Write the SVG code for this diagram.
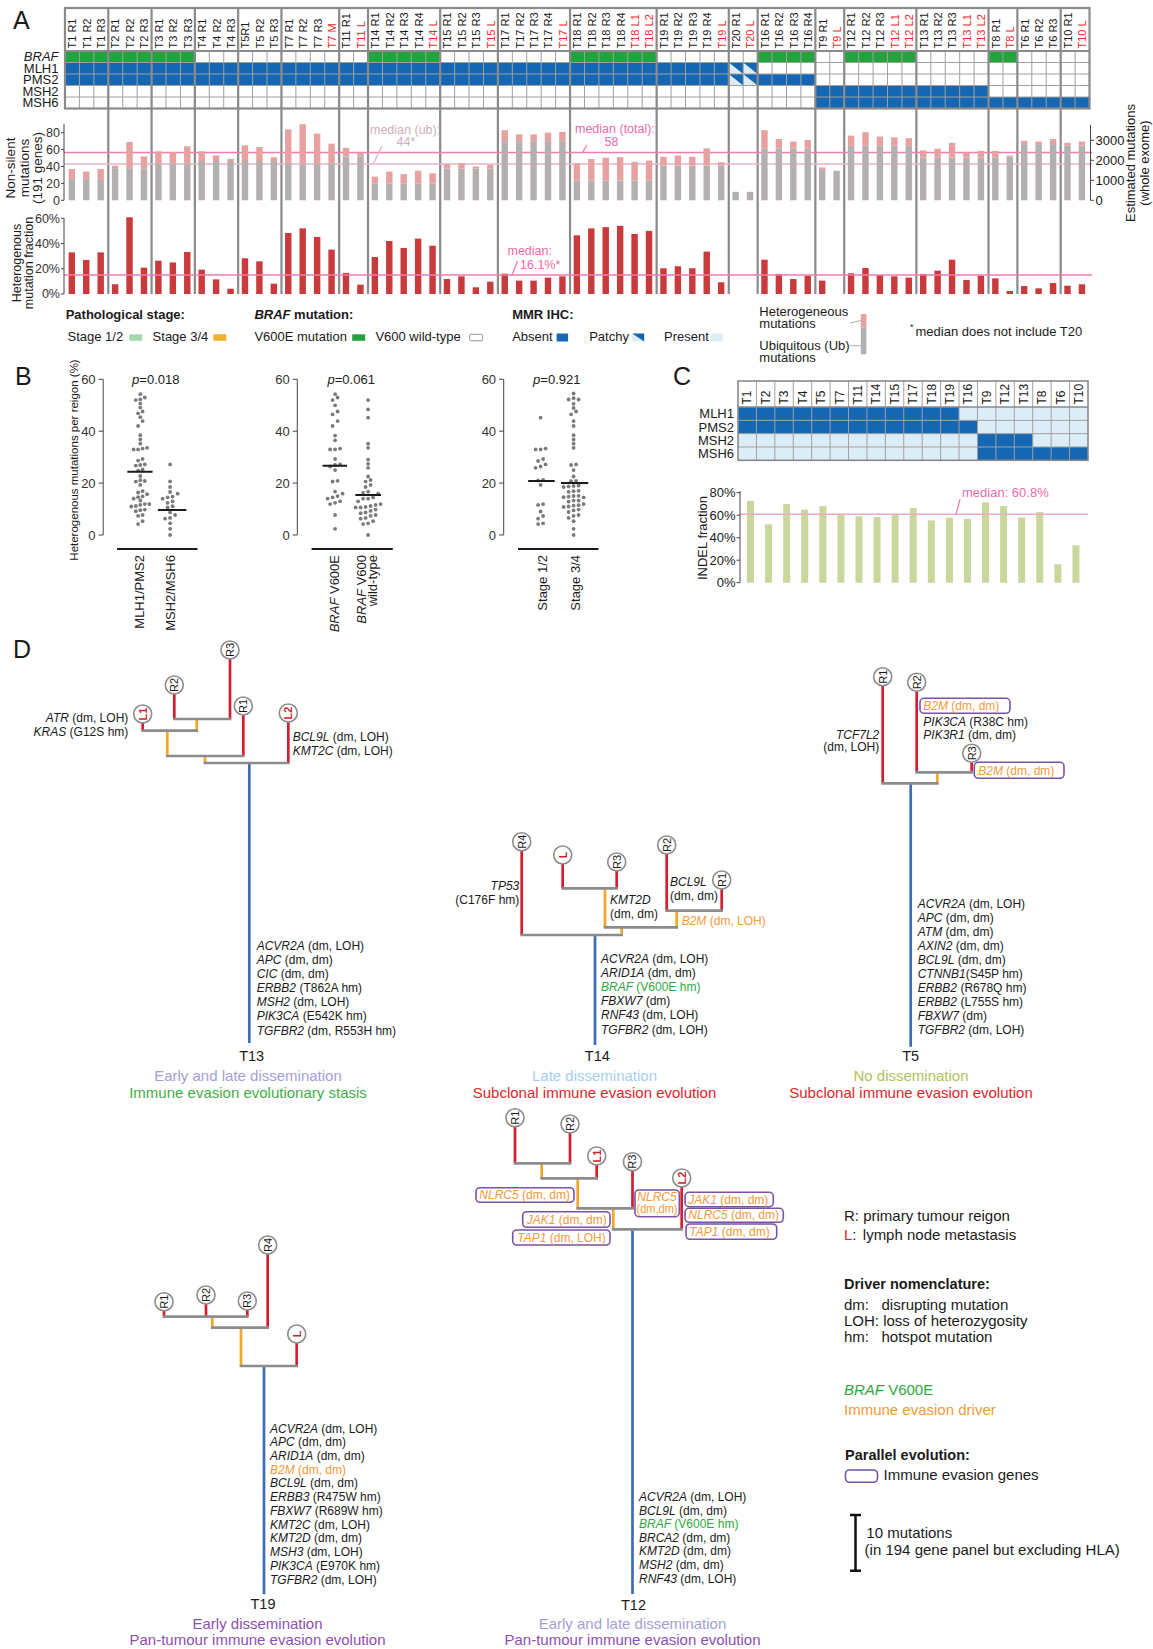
<svg xmlns="http://www.w3.org/2000/svg" width="1153" height="1649" viewBox="0 0 1153 1649">
<style>
text{font-family:"Liberation Sans",Arial,sans-serif;fill:#1a1a1a}
.i{font-style:italic}
.b{font-weight:bold}
.red{fill:#ee2a2a}
.hl{font-size:11px}
.rl{font-size:13px;text-anchor:end}
.ax{stroke:#444;stroke-width:1;fill:none}
.tk{font-size:13px;text-anchor:end;fill:#333}
.tka{font-size:12.5px;text-anchor:end;fill:#333}
.lg{font-size:13px}
.sep{stroke:#8a8a8a;stroke-width:2.2;fill:none}
.ns{vector-effect:non-scaling-stroke}
.ub{fill:#b5b0b0}
.ht{fill:#e7a1a1}
.hf{fill:#c83a3c}
.blue{fill:#1567b3}
.lblue{fill:#dcedf8}
.green{fill:#22a33e}
.pk{stroke:#f27bb0;stroke-width:1.3;fill:none}
.pkt{fill:#f06aa8}
.ubl{stroke:#e7b3cd;stroke-width:1.3;fill:none}
.ubt{fill:#cdb0bd}
.dt{fill:#7a7a7a}
.bl{stroke:#1a1a1a;stroke-width:2;fill:none}
.tg{stroke:#8c8c8c;stroke-width:2.7;fill:none;stroke-linecap:square}
.to{stroke:#f5a629;stroke-width:2.7;fill:none}
.tr{stroke:#d11f2f;stroke-width:2.7;fill:none}
.tb{stroke:#3e6db6;stroke-width:2.7;fill:none}
.nc{fill:#fff;stroke:#8c8c8c;stroke-width:1.6}
.nl{font-size:11px;text-anchor:middle}
.nlr{font-size:11px;text-anchor:middle;fill:#d11f2f;font-weight:bold}
.box{fill:#fff;stroke:#7a52a8;stroke-width:1.6}
.mt{font-size:12px}
.ie{fill:#f39a3d}
.bv{fill:#2ea83f}
.tn{font-size:14.5px;text-anchor:middle}
.st{font-size:15px;text-anchor:middle}
.lr{font-size:15px}
.ind{fill:#c8d79b}
</style>
<rect width="1153" height="1649" fill="#fff"/>

<!-- ================= PANEL A ================= -->
<g id="panelA">
<text x="13" y="28.5" font-size="25">A</text>
<rect x="65" y="8" width="1024.53" height="100.5" fill="#fff"/>
<g id="A-grid" transform="translate(65,51) scale(14.43,11.5)">
 <g class="green">
  <rect x="0" y="0" width="9" height="1"/><rect x="21" y="0" width="5" height="1"/><rect x="35" y="0" width="6" height="1"/><rect x="48" y="0" width="4" height="1"/><rect x="54" y="0" width="5" height="1"/><rect x="64" y="0" width="2" height="1"/>
 </g>
 <g class="blue">
  <rect x="0" y="1" width="46" height="1"/><rect x="0" y="2" width="46" height="1"/><rect x="48" y="2" width="4" height="1"/>
  <rect x="52" y="3" width="12" height="1"/><rect x="52" y="4" width="19" height="1"/>
 </g>
 <rect class="lblue" x="46" y="1" width="2" height="2"/>
 <path class="blue" d="M46 1H47V2Z M47 1H48V2Z M46 2H47V3Z M47 2H48V3Z"/>
 <path class="ns" stroke="#a0a0a0" stroke-width="1" fill="none" d="M0 1H71M0 2H71M0 3H71M0 4H71M1 0V5M2 0V5M3 0V5M4 0V5M5 0V5M6 0V5M7 0V5M8 0V5M9 0V5M10 0V5M11 0V5M12 0V5M13 0V5M14 0V5M15 0V5M16 0V5M17 0V5M18 0V5M19 0V5M20 0V5M21 0V5M22 0V5M23 0V5M24 0V5M25 0V5M26 0V5M27 0V5M28 0V5M29 0V5M30 0V5M31 0V5M32 0V5M33 0V5M34 0V5M35 0V5M36 0V5M37 0V5M38 0V5M39 0V5M40 0V5M41 0V5M42 0V5M43 0V5M44 0V5M45 0V5M46 0V5M47 0V5M48 0V5M49 0V5M50 0V5M51 0V5M52 0V5M53 0V5M54 0V5M55 0V5M56 0V5M57 0V5M58 0V5M59 0V5M60 0V5M61 0V5M62 0V5M63 0V5M64 0V5M65 0V5M66 0V5M67 0V5M68 0V5M69 0V5M70 0V5"/>
</g>
<rect x="65" y="8" width="1024.53" height="100.5" class="sep"/>
<path class="sep" stroke-width="1.5" d="M65 51H1089.53"/>
<path class="sep" d="M108.29 8V294M151.58 8V294M194.87 8V294M238.16 8V294M281.45 8V294M339.17 8V294M368.03 8V294M440.18 8V294M497.9 8V294M570.05 8V294M656.63 8V294M728.78 8V294M757.64 8V294M815.36 8V294M844.22 8V294M916.37 8V294M988.52 8V294M1017.38 8V294M1060.67 8V294"/>

<g id="A-rowlabels">
 <text class="rl i" x="58.5" y="61.3">BRAF</text>
 <text class="rl" x="58.5" y="72.8">MLH1</text>
 <text class="rl" x="58.5" y="84.3">PMS2</text>
 <text class="rl" x="58.5" y="95.8">MSH2</text>
 <text class="rl" x="58.5" y="107.3">MSH6</text>
</g>

<g id="A-samples" class="hl" transform="translate(65,48.5) rotate(-90)">
<text y="11.2">T1 R1</text><text y="25.63">T1 R2</text><text y="40.06">T1 R3</text>
<text y="54.49">T2 R1</text><text y="68.92">T2 R2</text><text y="83.35">T2 R3</text>
<text y="97.78">T3 R1</text><text y="112.21">T3 R2</text><text y="126.64">T3 R3</text>
<text y="141.07">T4 R1</text><text y="155.5">T4 R2</text><text y="169.93">T4 R3</text>
<text y="184.36">T5R1</text><text y="198.79">T5 R2</text><text y="213.22">T5 R3</text>
<text y="227.65">T7 R1</text><text y="242.08">T7 R2</text><text y="256.51">T7 R3</text><text y="270.94" class="red">T7 M</text>
<text y="285.37">T11 R1</text><text y="299.8" class="red">T11 L</text>
<text y="314.23">T14 R1</text><text y="328.66">T14 R2</text><text y="343.09">T14 R3</text><text y="357.52">T14 R4</text><text y="371.95" class="red">T14 L</text>
<text y="386.38">T15 R1</text><text y="400.81">T15 R2</text><text y="415.24">T15 R3</text><text y="429.67" class="red">T15 L</text>
<text y="444.1">T17 R1</text><text y="458.53">T17 R2</text><text y="472.96">T17 R3</text><text y="487.39">T17 R4</text><text y="501.82" class="red">T17 L</text>
<text y="516.25">T18 R1</text><text y="530.68">T18 R2</text><text y="545.11">T18 R3</text><text y="559.54">T18 R4</text><text y="573.97" class="red">T18 L1</text><text y="588.4" class="red">T18 L2</text>
<text y="602.83">T19 R1</text><text y="617.26">T19 R2</text><text y="631.69">T19 R3</text><text y="646.12">T19 R4</text><text y="660.55" class="red">T19 L</text>
<text y="674.98">T20 R1</text><text y="689.41" class="red">T20 L</text>
<text y="703.84">T16 R1</text><text y="718.27">T16 R2</text><text y="732.7">T16 R3</text><text y="747.13">T16 R4</text>
<text y="761.56">T9 R1</text><text y="775.99" class="red">T9 L</text>
<text y="790.42">T12 R1</text><text y="804.85">T12 R2</text><text y="819.28">T12 R3</text><text y="833.71" class="red">T12 L1</text><text y="848.14" class="red">T12 L2</text>
<text y="862.57">T13 R1</text><text y="877">T13 R2</text><text y="891.43">T13 R3</text><text y="905.86" class="red">T13 L1</text><text y="920.29" class="red">T13 L2</text>
<text y="934.72">T8 R1</text><text y="949.15" class="red">T8 L</text>
<text y="963.58">T6 R1</text><text y="978.01">T6 R2</text><text y="992.44">T6 R3</text>
<text y="1006.87">T10 R1</text><text y="1021.3" class="red">T10 L</text>
</g>

<!-- non-silent mutations chart -->
<g id="A-chart1">
<path class="ubl" d="M64 164H1092"/>
<path class="pk" d="M64 152.5H1092"/>
<g transform="translate(65,200.3) scale(14.43,-0.845)">
<g class="ub">
<rect x="0.25" width=".445" height="25"/><rect x="1.25" width=".445" height="25"/><rect x="2.25" width=".445" height="25"/>
<rect x="3.25" width=".445" height="38"/><rect x="4.25" width=".445" height="38"/><rect x="5.25" width=".445" height="38"/>
<rect x="6.25" width=".445" height="43.5"/><rect x="7.25" width=".445" height="43.5"/><rect x="8.25" width=".445" height="43.5"/>
<rect x="9.25" width=".445" height="46.5"/><rect x="10.25" width=".445" height="46.5"/><rect x="11.25" width=".445" height="46.5"/>
<rect x="12.25" width=".445" height="46.5"/><rect x="13.25" width=".445" height="46.5"/><rect x="14.25" width=".445" height="46.5"/>
<rect x="15.25" width=".445" height="43.5"/><rect x="16.25" width=".445" height="43.5"/><rect x="17.25" width=".445" height="43.5"/><rect x="18.25" width=".445" height="43.5"/>
<rect x="19.25" width=".445" height="52"/><rect x="20.25" width=".445" height="52"/>
<rect x="21.25" width=".445" height="20"/><rect x="22.25" width=".445" height="20"/><rect x="23.25" width=".445" height="20"/><rect x="24.25" width=".445" height="20"/><rect x="25.25" width=".445" height="20"/>
<rect x="26.25" width=".445" height="37.5"/><rect x="27.25" width=".445" height="37.5"/><rect x="28.25" width=".445" height="37.5"/><rect x="29.25" width=".445" height="37.5"/>
<rect x="30.25" width=".445" height="70"/><rect x="31.25" width=".445" height="70"/><rect x="32.25" width=".445" height="70"/><rect x="33.25" width=".445" height="70"/><rect x="34.25" width=".445" height="70"/>
<rect x="35.25" width=".445" height="23.5"/><rect x="36.25" width=".445" height="23.5"/><rect x="37.25" width=".445" height="23.5"/><rect x="38.25" width=".445" height="23.5"/><rect x="39.25" width=".445" height="23.5"/><rect x="40.25" width=".445" height="23.5"/>
<rect x="41.25" width=".445" height="41"/><rect x="42.25" width=".445" height="41"/><rect x="43.25" width=".445" height="41"/><rect x="44.25" width=".445" height="41"/><rect x="45.25" width=".445" height="41"/>
<rect x="46.25" width=".445" height="10"/><rect x="47.25" width=".445" height="10"/>
<rect x="48.25" width=".445" height="61"/><rect x="49.25" width=".445" height="61"/><rect x="50.25" width=".445" height="61"/><rect x="51.25" width=".445" height="61"/>
<rect x="52.25" width=".445" height="36"/><rect x="53.25" width=".445" height="35"/>
<rect x="54.25" width=".445" height="64.5"/><rect x="55.25" width=".445" height="64.5"/><rect x="56.25" width=".445" height="64.5"/><rect x="57.25" width=".445" height="64.5"/><rect x="58.25" width=".445" height="64.5"/>
<rect x="59.25" width=".445" height="50.5"/><rect x="60.25" width=".445" height="50.5"/><rect x="61.25" width=".445" height="50.5"/><rect x="62.25" width=".445" height="50.5"/><rect x="63.25" width=".445" height="50.5"/>
<rect x="64.25" width=".445" height="50.5"/><rect x="65.25" width=".445" height="52"/>
<rect x="66.25" width=".445" height="66.5"/><rect x="67.25" width=".445" height="66.5"/><rect x="68.25" width=".445" height="66.5"/>
<rect x="69.25" width=".445" height="65"/><rect x="70.25" width=".445" height="65"/>
</g>
<g class="ht">
<rect x="0.25" y="25" width=".445" height="12"/><rect x="1.25" y="25" width=".445" height="9"/><rect x="2.25" y="25" width=".445" height="12"/>
<rect x="3.25" y="38" width=".445" height="3"/><rect x="4.25" y="38" width=".445" height="31"/><rect x="5.25" y="38" width=".445" height="14"/>
<rect x="6.25" y="43.5" width=".445" height="14.5"/><rect x="7.25" y="43.5" width=".445" height="13.5"/><rect x="8.25" y="43.5" width=".445" height="20.5"/>
<rect x="9.25" y="46.5" width=".445" height="11.5"/><rect x="10.25" y="46.5" width=".445" height="6.5"/><rect x="11.25" y="46.5" width=".445" height="2.5"/>
<rect x="12.25" y="46.5" width=".445" height="18.5"/><rect x="13.25" y="46.5" width=".445" height="16.5"/><rect x="14.25" y="46.5" width=".445" height="4.5"/>
<rect x="15.25" y="43.5" width=".445" height="40.5"/><rect x="16.25" y="43.5" width=".445" height="46.5"/><rect x="17.25" y="43.5" width=".445" height="35.5"/><rect x="18.25" y="43.5" width=".445" height="23.5"/>
<rect x="19.25" y="52" width=".445" height="10"/><rect x="20.25" y="52" width=".445" height="4.5"/>
<rect x="21.25" y="20" width=".445" height="8"/><rect x="22.25" y="20" width=".445" height="14"/><rect x="23.25" y="20" width=".445" height="11"/><rect x="24.25" y="20" width=".445" height="15"/><rect x="25.25" y="20" width=".445" height="12"/>
<rect x="26.25" y="37.5" width=".445" height="5.5"/><rect x="27.25" y="37.5" width=".445" height="6.5"/><rect x="28.25" y="37.5" width=".445" height="2.5"/><rect x="29.25" y="37.5" width=".445" height="4.5"/>
<rect x="30.25" y="70" width=".445" height="13"/><rect x="31.25" y="70" width=".445" height="8"/><rect x="32.25" y="70" width=".445" height="8"/><rect x="33.25" y="70" width=".445" height="10"/><rect x="34.25" y="70" width=".445" height="11"/>
<rect x="35.25" y="23.5" width=".445" height="20.5"/><rect x="36.25" y="23.5" width=".445" height="25.5"/><rect x="37.25" y="23.5" width=".445" height="27"/><rect x="38.25" y="23.5" width=".445" height="27.5"/><rect x="39.25" y="23.5" width=".445" height="22"/><rect x="40.25" y="23.5" width=".445" height="23.5"/>
<rect x="41.25" y="41" width=".445" height="10.5"/><rect x="42.25" y="41" width=".445" height="12"/><rect x="43.25" y="41" width=".445" height="10.5"/><rect x="44.25" y="41" width=".445" height="20.5"/><rect x="45.25" y="41" width=".445" height="4"/>
<rect x="48.25" y="61" width=".445" height="22"/><rect x="49.25" y="61" width=".445" height="11.5"/><rect x="50.25" y="61" width=".445" height="8.5"/><rect x="51.25" y="61" width=".445" height="10.5"/>
<rect x="52.25" y="36" width=".445" height="3"/>
<rect x="54.25" y="64.5" width=".445" height="12"/><rect x="55.25" y="64.5" width=".445" height="16"/><rect x="56.25" y="64.5" width=".445" height="11"/><rect x="57.25" y="64.5" width=".445" height="10"/><rect x="58.25" y="64.5" width=".445" height="9"/>
<rect x="59.25" y="50.5" width=".445" height="8.5"/><rect x="60.25" y="50.5" width=".445" height="10.5"/><rect x="61.25" y="50.5" width=".445" height="17.5"/><rect x="62.25" y="50.5" width=".445" height="6"/><rect x="63.25" y="50.5" width=".445" height="8"/>
<rect x="64.25" y="50.5" width=".445" height="8"/><rect x="65.25" y="52" width=".445" height="1"/>
<rect x="66.25" y="66.5" width=".445" height="4"/><rect x="67.25" y="66.5" width=".445" height="3"/><rect x="68.25" y="66.5" width=".445" height="6"/>
<rect x="69.25" y="65" width=".445" height="3"/><rect x="70.25" y="65" width=".445" height="4.5"/>
</g>
</g>
<path class="ax" d="M64 124V200.3M61 200.3H64M61 183.4H64M61 166.5H64M61 149.6H64M61 132.7H64"/>
<text class="tka" x="60" y="204.6">0</text><text class="tka" x="60" y="187.7">20</text><text class="tka" x="60" y="170.8">40</text><text class="tka" x="60" y="153.9">60</text><text class="tka" x="60" y="137">80</text>
<path class="ax" d="M1090.5 125V200.3M1090.5 200.3H1094M1090.5 180.3H1094M1090.5 160.3H1094M1090.5 140.3H1094"/>
<g font-size="13"><text x="1095.5" y="205">0</text><text x="1095.5" y="185">1000</text><text x="1095.5" y="165">2000</text><text x="1095.5" y="145">3000</text></g>
<g font-size="13" text-anchor="middle" transform="translate(0,163) rotate(-90)"><text x="0" y="1135">Estimated mutations</text><text x="0" y="1149">(whole exome)</text></g>
<g font-size="13.5" text-anchor="middle" transform="translate(0,168) rotate(-90)"><text x="0" y="15">Non-silent</text><text x="0" y="28.5">mutations</text><text x="0" y="42">(191 genes)</text></g>
<text class="ubt" font-size="12.5" x="370" y="133.5">median (ub):</text>
<text class="ubt" font-size="12.5" x="406" y="145.5" text-anchor="middle">44*</text>
<path class="ubl" d="M382 146L373.5 163.3"/>
<text class="pkt" font-size="12.5" x="575" y="132.5">median (total):</text>
<text class="pkt" font-size="12.5" x="611.5" y="145.5" text-anchor="middle">58</text>
<path class="pk" d="M586.8 145L582.4 152.7"/>
</g>

<!-- heterogeneous fraction chart -->
<g id="A-chart2">
<g class="hf" transform="translate(65,294) scale(14.43,-1.2617)">
<rect x="0.25" width=".445" height="33"/><rect x="1.25" width=".445" height="27"/><rect x="2.25" width=".445" height="33"/>
<rect x="3.25" width=".445" height="7.7"/><rect x="4.25" width=".445" height="60.8"/><rect x="5.25" width=".445" height="20.9"/>
<rect x="6.25" width=".445" height="26.4"/><rect x="7.25" width=".445" height="25"/><rect x="8.25" width=".445" height="33.3"/>
<rect x="9.25" width=".445" height="19.3"/><rect x="10.25" width=".445" height="11.6"/><rect x="11.25" width=".445" height="4.2"/>
<rect x="12.25" width=".445" height="28.3"/><rect x="13.25" width=".445" height="25.9"/><rect x="14.25" width=".445" height="8.2"/>
<rect x="15.25" width=".445" height="48.4"/><rect x="16.25" width=".445" height="52"/><rect x="17.25" width=".445" height="45.2"/><rect x="18.25" width=".445" height="35.2"/>
<rect x="19.25" width=".445" height="16.7"/><rect x="20.25" width=".445" height="7.4"/>
<rect x="21.25" width=".445" height="29.3"/><rect x="22.25" width=".445" height="42"/><rect x="23.25" width=".445" height="36.5"/><rect x="24.25" width=".445" height="43.9"/><rect x="25.25" width=".445" height="38.3"/>
<rect x="26.25" width=".445" height="11.9"/><rect x="27.25" width=".445" height="14"/><rect x="28.25" width=".445" height="5.3"/><rect x="29.25" width=".445" height="9.8"/>
<rect x="30.25" width=".445" height="16.1"/><rect x="31.25" width=".445" height="10.6"/><rect x="32.25" width=".445" height="10.6"/><rect x="33.25" width=".445" height="13"/><rect x="34.25" width=".445" height="14"/>
<rect x="35.25" width=".445" height="46.5"/><rect x="36.25" width=".445" height="52"/><rect x="37.25" width=".445" height="53"/><rect x="38.25" width=".445" height="54"/><rect x="39.25" width=".445" height="47.6"/><rect x="40.25" width=".445" height="50"/>
<rect x="41.25" width=".445" height="20.4"/><rect x="42.25" width=".445" height="22"/><rect x="43.25" width=".445" height="20.4"/><rect x="44.25" width=".445" height="33.6"/><rect x="45.25" width=".445" height="9.3"/>
<rect x="48.25" width=".445" height="27.2"/><rect x="49.25" width=".445" height="15.9"/><rect x="50.25" width=".445" height="11.9"/><rect x="51.25" width=".445" height="14.5"/>
<rect x="52.25" width=".445" height="10.6"/>
<rect x="54.25" width=".445" height="16.4"/><rect x="55.25" width=".445" height="20.6"/><rect x="56.25" width=".445" height="15"/><rect x="57.25" width=".445" height="14"/><rect x="58.25" width=".445" height="13"/>
<rect x="59.25" width=".445" height="15.9"/><rect x="60.25" width=".445" height="18.5"/><rect x="61.25" width=".445" height="27.2"/><rect x="62.25" width=".445" height="11.1"/><rect x="63.25" width=".445" height="14.5"/>
<rect x="64.25" width=".445" height="12.4"/><rect x="65.25" width=".445" height="2.4"/>
<rect x="66.25" width=".445" height="6.3"/><rect x="67.25" width=".445" height="4.5"/><rect x="68.25" width=".445" height="8.7"/>
<rect x="69.25" width=".445" height="6.6"/><rect x="70.25" width=".445" height="7.7"/>
</g>
<path class="pk" d="M64 275H1092"/>
<path class="ax" d="M64 218V294M61 294H64M61 268.8H64M61 243.5H64M61 218.3H64"/>
<text class="tka" x="60" y="298.4">0%</text><text class="tka" x="60" y="273.2">20%</text><text class="tka" x="60" y="247.9">40%</text><text class="tka" x="60" y="222.7">60%</text>
<g font-size="12.5" text-anchor="middle" transform="translate(0,263) rotate(-90)"><text x="0" y="20.5">Heterogenous</text><text x="0" y="33">mutation fraction</text></g>
<text class="pkt" font-size="12.5" x="507.5" y="254.5">median:</text>
<text class="pkt" font-size="12.5" x="520" y="268.5">16.1%*</text>
<path class="pk" d="M517.5 261L512 275"/>
</g>

<!-- legend A -->
<g id="A-legend">
<text class="lg b" x="65.7" y="318.5">Pathological stage:</text>
<text class="lg" x="67.5" y="341">Stage 1/2</text><rect x="129.3" y="334.3" width="13" height="6.5" fill="#a5d8b0"/>
<text class="lg" x="152.6" y="341">Stage 3/4</text><rect x="213.3" y="334.3" width="13" height="6.5" fill="#f6ae2d"/>
<text class="lg b" x="254.4" y="318.5"><tspan class="i">BRAF</tspan> mutation:</text>
<text class="lg" x="254.4" y="341">V600E mutation</text><rect x="352.2" y="334.3" width="13" height="6.5" class="green"/>
<text class="lg" x="375.4" y="341">V600 wild-type</text><rect x="469.7" y="334.3" width="13" height="6.5" fill="#fff" stroke="#777" stroke-width="0.8" rx="1.5"/>
<text class="lg b" x="512.2" y="318.5">MMR IHC:</text>
<text class="lg" x="512.2" y="341">Absent</text><rect x="556.6" y="333.5" width="11.5" height="8" class="blue"/>
<text class="lg" x="589.2" y="341">Patchy</text><rect x="632.2" y="333.5" width="12" height="8" class="lblue"/><path d="M632.2 333.5H644.2V341.5Z" class="blue"/>
<text class="lg" x="664" y="341">Present</text><rect x="710.4" y="333.5" width="12" height="8" class="lblue"/>
<text class="lg" x="759.3" y="315.7">Heterogeneous</text>
<text class="lg" x="759.3" y="327.5">mutations</text>
<text class="lg" x="759.3" y="349.5">Ubiquitous (Ub)</text>
<text class="lg" x="759.3" y="361.5">mutations</text>
<rect x="860.8" y="314" width="5.6" height="13.3" class="ht"/>
<rect x="860.8" y="327.3" width="5.6" height="27" class="ub"/>
<path d="M850 323L860.8 320.5M849.7 345.7H860.8" stroke="#999" stroke-width="0.8" fill="none"/>
<text font-size="9" x="910" y="330">*</text>
<text class="lg" x="915.5" y="335.7">median does not include T20</text>
</g>
</g>

<!-- ================= PANEL B ================= -->
<g id="panelB">
<text x="15" y="385" font-size="25">B</text>
<g font-size="11.5" text-anchor="middle" transform="translate(0,460) rotate(-90)"><text x="0" y="77.5">Heterogenous mutations per reigon (%)</text></g>
<g id="B-plot1" transform="translate(-5.4,0)">
<path class="ax" stroke="#222" stroke-width="1.3" d="M108.6 379.3V535M104 379.3H108.6M104 431.2H108.6M104 483.1H108.6M104 535H108.6"/>
<text class="tk" x="101" y="384">60</text><text class="tk" x="101" y="436">40</text><text class="tk" x="101" y="488">20</text><text class="tk" x="101" y="539.8">0</text>
<text font-size="13" x="161.2" y="383.5" text-anchor="middle"><tspan class="i">p</tspan>=0.018</text>
<g class="dt">
<circle cx="143.5" cy="524.1" r="1.9"/><circle cx="148" cy="521.2" r="1.9"/><circle cx="143.5" cy="515.8" r="1.9"/><circle cx="148" cy="515" r="1.9"/><circle cx="141.2" cy="511.2" r="1.9"/><circle cx="145.7" cy="510.2" r="1.9"/><circle cx="150.2" cy="509.6" r="1.9"/><circle cx="136.7" cy="506.5" r="1.9"/><circle cx="141.2" cy="506" r="1.9"/><circle cx="145.7" cy="504.9" r="1.9"/><circle cx="150.2" cy="504.1" r="1.9"/><circle cx="154.7" cy="504.1" r="1.9"/><circle cx="145.7" cy="500.5" r="1.9"/><circle cx="139" cy="498.7" r="1.9"/><circle cx="143.5" cy="497.2" r="1.9"/><circle cx="148" cy="496.4" r="1.9"/><circle cx="152.5" cy="494.2" r="1.9"/><circle cx="143.5" cy="492.5" r="1.9"/><circle cx="148" cy="491.2" r="1.9"/><circle cx="145.7" cy="484.9" r="1.9"/><circle cx="141.2" cy="481.6" r="1.9"/><circle cx="145.7" cy="480.2" r="1.9"/><circle cx="150.2" cy="481" r="1.9"/><circle cx="145.7" cy="476" r="1.9"/><circle cx="143.5" cy="470.6" r="1.9"/><circle cx="148" cy="469.4" r="1.9"/><circle cx="141.2" cy="465.6" r="1.9"/><circle cx="145.7" cy="465" r="1.9"/><circle cx="150.2" cy="464.4" r="1.9"/><circle cx="143.5" cy="460.6" r="1.9"/><circle cx="148" cy="459" r="1.9"/><circle cx="139" cy="449.4" r="1.9"/><circle cx="143.5" cy="449.4" r="1.9"/><circle cx="148" cy="448.6" r="1.9"/><circle cx="152.5" cy="447.8" r="1.9"/><circle cx="145.7" cy="443.7" r="1.9"/><circle cx="145.7" cy="439.5" r="1.9"/><circle cx="145.7" cy="435.2" r="1.9"/><circle cx="143.5" cy="426" r="1.9"/><circle cx="148" cy="421.1" r="1.9"/><circle cx="145.7" cy="417.2" r="1.9"/><circle cx="143.5" cy="413.3" r="1.9"/><circle cx="148" cy="411.5" r="1.9"/><circle cx="145.7" cy="407.6" r="1.9"/><circle cx="145.7" cy="403.6" r="1.9"/><circle cx="141.2" cy="400.1" r="1.9"/><circle cx="145.7" cy="399.4" r="1.9"/><circle cx="150.2" cy="397.5" r="1.9"/><circle cx="145.7" cy="394.2" r="1.9"/>
<circle cx="175.5" cy="535" r="1.9"/><circle cx="175.5" cy="528.8" r="1.9"/><circle cx="175.5" cy="523.3" r="1.9"/><circle cx="170.5" cy="518.7" r="1.9"/><circle cx="175.5" cy="517.9" r="1.9"/><circle cx="180.5" cy="515" r="1.9"/><circle cx="175.5" cy="512.4" r="1.9"/><circle cx="173" cy="507.5" r="1.9"/><circle cx="178" cy="506.2" r="1.9"/><circle cx="173" cy="502.8" r="1.9"/><circle cx="178" cy="501.3" r="1.9"/><circle cx="168" cy="498.7" r="1.9"/><circle cx="173" cy="497.4" r="1.9"/><circle cx="178" cy="496.6" r="1.9"/><circle cx="183" cy="493.7" r="1.9"/><circle cx="175.5" cy="492" r="1.9"/><circle cx="175.5" cy="487" r="1.9"/><circle cx="175.5" cy="481.5" r="1.9"/><circle cx="175.5" cy="464.4" r="1.9"/>
</g>
<path class="bl" d="M132.7 471.7H158M163.3 510H191.8M122.4 549H202.9"/>
<g font-size="13" text-anchor="end">
<text transform="translate(149.5,555) rotate(-90)">MLH1/PMS2</text>
<text transform="translate(180,555) rotate(-90)">MSH2/MSH6</text>
</g>
</g>
<g id="B-plot2" transform="translate(-3.9,0)">
<path class="ax" stroke="#222" stroke-width="1.3" d="M301.2 379.3V535M296.6 379.3H301.2M296.6 431.2H301.2M296.6 483.1H301.2M296.6 535H301.2"/>
<text class="tk" x="293.6" y="384">60</text><text class="tk" x="293.6" y="436">40</text><text class="tk" x="293.6" y="488">20</text><text class="tk" x="293.6" y="539.8">0</text>
<text font-size="13" x="355.1" y="383.5" text-anchor="middle"><tspan class="i">p</tspan>=0.061</text>
<g class="dt">
<circle cx="339" cy="528.8" r="1.9"/><circle cx="339" cy="515" r="1.9"/><circle cx="334" cy="504.1" r="1.9"/><circle cx="339" cy="502.8" r="1.9"/><circle cx="344" cy="501.3" r="1.9"/><circle cx="331.5" cy="498.7" r="1.9"/><circle cx="336.5" cy="497.4" r="1.9"/><circle cx="341.5" cy="496.1" r="1.9"/><circle cx="346.5" cy="493.7" r="1.9"/><circle cx="339" cy="491.6" r="1.9"/><circle cx="336.5" cy="481.5" r="1.9"/><circle cx="341.5" cy="480.8" r="1.9"/><circle cx="339" cy="470.1" r="1.9"/><circle cx="334" cy="466.5" r="1.9"/><circle cx="339" cy="465" r="1.9"/><circle cx="344" cy="464.4" r="1.9"/><circle cx="339" cy="459" r="1.9"/><circle cx="334" cy="449.4" r="1.9"/><circle cx="339" cy="449.4" r="1.9"/><circle cx="344" cy="448.6" r="1.9"/><circle cx="339" cy="440.3" r="1.9"/><circle cx="339" cy="435.6" r="1.9"/><circle cx="336.5" cy="426" r="1.9"/><circle cx="341.5" cy="421.1" r="1.9"/><circle cx="336.5" cy="414.3" r="1.9"/><circle cx="341.5" cy="411.5" r="1.9"/><circle cx="339" cy="405.3" r="1.9"/><circle cx="336.5" cy="400.1" r="1.9"/><circle cx="341.5" cy="397.5" r="1.9"/><circle cx="339" cy="394.2" r="1.9"/>
<circle cx="372" cy="535" r="1.9"/><circle cx="367" cy="524.1" r="1.9"/><circle cx="372" cy="523.3" r="1.9"/><circle cx="377" cy="521.2" r="1.9"/><circle cx="364.5" cy="518.7" r="1.9"/><circle cx="369.5" cy="517.9" r="1.9"/><circle cx="374.5" cy="515.8" r="1.9"/><circle cx="379.5" cy="515" r="1.9"/><circle cx="364.5" cy="513.2" r="1.9"/><circle cx="369.5" cy="512.4" r="1.9"/><circle cx="374.5" cy="510.9" r="1.9"/><circle cx="379.5" cy="509.6" r="1.9"/><circle cx="359.5" cy="507.5" r="1.9"/><circle cx="364.5" cy="507.5" r="1.9"/><circle cx="369.5" cy="507" r="1.9"/><circle cx="374.5" cy="506" r="1.9"/><circle cx="379.5" cy="504.9" r="1.9"/><circle cx="384.5" cy="504.1" r="1.9"/><circle cx="362" cy="501.3" r="1.9"/><circle cx="367" cy="498.7" r="1.9"/><circle cx="372" cy="498.7" r="1.9"/><circle cx="377" cy="497.4" r="1.9"/><circle cx="382" cy="493.7" r="1.9"/><circle cx="367" cy="492.8" r="1.9"/><circle cx="372" cy="491.7" r="1.9"/><circle cx="369.5" cy="487" r="1.9"/><circle cx="374.5" cy="484.9" r="1.9"/><circle cx="369.5" cy="481.6" r="1.9"/><circle cx="374.5" cy="480" r="1.9"/><circle cx="372" cy="476.5" r="1.9"/><circle cx="372" cy="467.8" r="1.9"/><circle cx="372" cy="463.8" r="1.9"/><circle cx="372" cy="459.6" r="1.9"/><circle cx="372" cy="447.8" r="1.9"/><circle cx="372" cy="443.7" r="1.9"/><circle cx="372" cy="417.7" r="1.9"/><circle cx="372" cy="409.4" r="1.9"/><circle cx="372" cy="400.1" r="1.9"/>
</g>
<path class="bl" d="M326.5 465.7H351M359.2 495H384.9M315.5 549H396.7"/>
<g font-size="13" text-anchor="end">
<text transform="translate(343.3,555) rotate(-90)"><tspan class="i">BRAF</tspan> V600E</text>
<text transform="translate(369.5,555) rotate(-90)"><tspan class="i">BRAF</tspan> V600</text>
<text transform="translate(381,555) rotate(-90)">wild-type</text>
</g>
</g>
<g id="B-plot3" transform="translate(-2.4,0)">
<path class="ax" stroke="#222" stroke-width="1.3" d="M506.1 379.3V535M501.5 379.3H506.1M501.5 431.2H506.1M501.5 483.1H506.1M501.5 535H506.1"/>
<text class="tk" x="498.5" y="384">60</text><text class="tk" x="498.5" y="436">40</text><text class="tk" x="498.5" y="488">20</text><text class="tk" x="498.5" y="539.8">0</text>
<text font-size="13" x="559.2" y="383.5" text-anchor="middle"><tspan class="i">p</tspan>=0.921</text>
<g class="dt">
<circle cx="540.5" cy="524.1" r="1.9"/><circle cx="545.5" cy="523.3" r="1.9"/><circle cx="540.5" cy="518.7" r="1.9"/><circle cx="545.5" cy="516" r="1.9"/><circle cx="543" cy="511.5" r="1.9"/><circle cx="540.5" cy="504.9" r="1.9"/><circle cx="545.5" cy="504.1" r="1.9"/><circle cx="543" cy="484.9" r="1.9"/><circle cx="540.5" cy="480.5" r="1.9"/><circle cx="545.5" cy="480" r="1.9"/><circle cx="538" cy="467.8" r="1.9"/><circle cx="543" cy="466.5" r="1.9"/><circle cx="548" cy="464.4" r="1.9"/><circle cx="540.5" cy="461" r="1.9"/><circle cx="545.5" cy="459" r="1.9"/><circle cx="538" cy="449.4" r="1.9"/><circle cx="543" cy="449.4" r="1.9"/><circle cx="548" cy="448.6" r="1.9"/><circle cx="543" cy="417.7" r="1.9"/>
<circle cx="576" cy="535" r="1.9"/><circle cx="576" cy="528.8" r="1.9"/><circle cx="576" cy="521.2" r="1.9"/><circle cx="571" cy="517.9" r="1.9"/><circle cx="576" cy="515.8" r="1.9"/><circle cx="581" cy="515" r="1.9"/><circle cx="571" cy="512" r="1.9"/><circle cx="576" cy="510.4" r="1.9"/><circle cx="581" cy="509.6" r="1.9"/><circle cx="566" cy="507" r="1.9"/><circle cx="571" cy="506.5" r="1.9"/><circle cx="576" cy="505.7" r="1.9"/><circle cx="581" cy="505.2" r="1.9"/><circle cx="586" cy="504.1" r="1.9"/><circle cx="571" cy="501.6" r="1.9"/><circle cx="576" cy="500.6" r="1.9"/><circle cx="581" cy="500.6" r="1.9"/><circle cx="566" cy="497.2" r="1.9"/><circle cx="571" cy="496.7" r="1.9"/><circle cx="576" cy="496" r="1.9"/><circle cx="581" cy="495.8" r="1.9"/><circle cx="586" cy="497.4" r="1.9"/><circle cx="571" cy="491.8" r="1.9"/><circle cx="576" cy="491.2" r="1.9"/><circle cx="581" cy="490.8" r="1.9"/><circle cx="566" cy="487" r="1.9"/><circle cx="571" cy="486.5" r="1.9"/><circle cx="576" cy="486" r="1.9"/><circle cx="581" cy="485.5" r="1.9"/><circle cx="573.5" cy="481.2" r="1.9"/><circle cx="578.5" cy="480.8" r="1.9"/><circle cx="576" cy="476.5" r="1.9"/><circle cx="576" cy="470.1" r="1.9"/><circle cx="573.5" cy="465" r="1.9"/><circle cx="578.5" cy="464.4" r="1.9"/><circle cx="576" cy="447.8" r="1.9"/><circle cx="576" cy="443.7" r="1.9"/><circle cx="576" cy="439.5" r="1.9"/><circle cx="576" cy="435.2" r="1.9"/><circle cx="576" cy="426" r="1.9"/><circle cx="576" cy="421.1" r="1.9"/><circle cx="573.5" cy="414.3" r="1.9"/><circle cx="578.5" cy="411.5" r="1.9"/><circle cx="576" cy="408" r="1.9"/><circle cx="576" cy="403.8" r="1.9"/><circle cx="571" cy="399.5" r="1.9"/><circle cx="581" cy="399.5" r="1.9"/><circle cx="576" cy="398.2" r="1.9"/><circle cx="576" cy="393.5" r="1.9"/>
</g>
<path class="bl" d="M530.6 481H557.1M563.3 483H590.6M520.4 549H600.8"/>
<g font-size="13" text-anchor="end">
<text transform="translate(549.4,555) rotate(-90)">Stage 1/2</text>
<text transform="translate(582.1,555) rotate(-90)">Stage 3/4</text>
</g>
</g>
</g>

<!-- ================= PANEL C ================= -->
<g id="panelC">
<text x="673" y="385" font-size="25">C</text>
<rect x="738" y="381" width="350" height="26" fill="#fff"/>
<g transform="translate(738,407) scale(18.42,13.33)">
 <rect class="lblue" x="0" y="0" width="19" height="4"/>
 <g class="blue"><rect x="0" y="0" width="12" height="1"/><rect x="0" y="1" width="13" height="1"/><rect x="13" y="2" width="3" height="1"/><rect x="13" y="3" width="6" height="1"/></g>
 <path class="ns" stroke="#a0a0a0" stroke-width="1" fill="none" d="M0 1H19M0 2H19M0 3H19M1 -1.95V4M2 -1.95V4M3 -1.95V4M4 -1.95V4M5 -1.95V4M6 -1.95V4M7 -1.95V4M8 -1.95V4M9 -1.95V4M10 -1.95V4M11 -1.95V4M12 -1.95V4M13 -1.95V4M14 -1.95V4M15 -1.95V4M16 -1.95V4M17 -1.95V4M18 -1.95V4"/>
</g>
<rect x="738" y="381" width="350" height="79.3" fill="none" stroke="#8a8a8a" stroke-width="1.6"/>
<path d="M738 407H1088" stroke="#8a8a8a" stroke-width="1.3"/>
<g font-size="12" transform="translate(738,404.5) rotate(-90)">
<text y="13.41">T1</text><text y="31.83">T2</text><text y="50.25">T3</text><text y="68.67">T4</text><text y="87.09">T5</text><text y="105.51">T7</text><text y="123.93">T11</text><text y="142.35">T14</text><text y="160.77">T15</text><text y="179.19">T17</text><text y="197.61">T18</text><text y="216.03">T19</text><text y="234.45">T16</text><text y="252.87">T9</text><text y="271.29">T12</text><text y="289.71">T13</text><text y="308.13">T8</text><text y="326.55">T6</text><text y="344.97">T10</text>
</g>
<text class="rl" x="734" y="418.2">MLH1</text><text class="rl" x="734" y="431.5">PMS2</text><text class="rl" x="734" y="444.8">MSH2</text><text class="rl" x="734" y="458.2">MSH6</text>
<g class="ind" transform="translate(747,582.7) scale(18.08,-1.125)">
<rect x="0" width=".387" height="72.6"/><rect x="1" width=".387" height="51.9"/><rect x="2" width=".387" height="70"/><rect x="3" width=".387" height="64.9"/><rect x="4" width=".387" height="68.1"/><rect x="5" width=".387" height="61.3"/><rect x="6" width=".387" height="59"/><rect x="7" width=".387" height="58.4"/><rect x="8" width=".387" height="60.4"/><rect x="9" width=".387" height="66.4"/><rect x="10" width=".387" height="55.4"/><rect x="11" width=".387" height="57.8"/><rect x="12" width=".387" height="56.6"/><rect x="13" width=".387" height="71.4"/><rect x="14" width=".387" height="68.1"/><rect x="15" width=".387" height="58"/><rect x="16" width=".387" height="62.8"/><rect x="17" width=".387" height="16.3"/><rect x="18" width=".387" height="33.2"/>
</g>
<path d="M740 514.3H1088" stroke="#f5a8c6" stroke-width="1.4"/>
<path class="ax" d="M740 491V582.7M736.5 582.7H740M736.5 560.2H740M736.5 537.7H740M736.5 515.2H740M736.5 492.7H740"/>
<g class="tk" font-size="12"><text x="735.5" y="587">0%</text><text x="735.5" y="564.5">20%</text><text x="735.5" y="542">40%</text><text x="735.5" y="519.5">60%</text><text x="735.5" y="497">80%</text></g>
<text font-size="13" text-anchor="middle" transform="translate(706.5,538) rotate(-90)">INDEL fraction</text>
<text class="pkt" font-size="13" x="962" y="497">median: 60.8%</text>
<path class="pk" d="M960 499L956 514.3"/>
</g>

<!-- ================= PANEL D ================= -->
<g id="panelD">
<text x="13" y="658" font-size="25">D</text>

<!-- T13 -->
<g id="tree-T13">
 <g id="T13-connectors">
  <path class="tb" d="M249.3 763V1043"/>
  <path class="to" d="M205 763V756M167.3 756V730.7M196.7 730.7V719"/>
  <path class="tr" d="M288.3 763V722M243.3 756V715M142.7 730.7V723M174.3 719V694M230 719V659"/>
  <path class="tg" d="M205 763H288.3M167.3 756H243.3M142.7 730.7H196.7M174.3 719H230"/>
 </g>
 <g id="T13-L2"><circle class="nc" cx="288.3" cy="713" r="9"/><text class="nlr" transform="translate(288.3,713) rotate(-90)" y="3.9">L2</text></g>
 <g id="T13-R1"><circle class="nc" cx="243.3" cy="706" r="9"/><text class="nl" transform="translate(243.3,706) rotate(-90)" y="3.9">R1</text></g>
 <g id="T13-L1"><circle class="nc" cx="142.7" cy="714" r="9"/><text class="nlr" transform="translate(142.7,714) rotate(-90)" y="3.9">L1</text></g>
 <g id="T13-R2"><circle class="nc" cx="174.3" cy="685" r="9"/><text class="nl" transform="translate(174.3,685) rotate(-90)" y="3.9">R2</text></g>
 <g id="T13-R3"><circle class="nc" cx="230" cy="650" r="9"/><text class="nl" transform="translate(230,650) rotate(-90)" y="3.9">R3</text></g>
 <text class="mt" x="128.3" y="721.5" text-anchor="end"><tspan class="i">ATR</tspan> (dm, LOH)</text>
 <text class="mt" x="128.3" y="736" text-anchor="end"><tspan class="i">KRAS</tspan> (G12S hm)</text>
 <text class="mt" x="292.7" y="741"><tspan class="i">BCL9L</tspan> (dm, LOH)</text>
 <text class="mt" x="292.7" y="755"><tspan class="i">KMT2C</tspan> (dm, LOH)</text>
 <g class="mt">
  <text x="256.7" y="949.5"><tspan class="i">ACVR2A</tspan> (dm, LOH)</text>
  <text x="256.7" y="963.7"><tspan class="i">APC</tspan> (dm, dm)</text>
  <text x="256.7" y="977.8"><tspan class="i">CIC</tspan> (dm, dm)</text>
  <text x="256.7" y="992"><tspan class="i">ERBB2</tspan> (T862A hm)</text>
  <text x="256.7" y="1006.2"><tspan class="i">MSH2</tspan> (dm, LOH)</text>
  <text x="256.7" y="1020.3"><tspan class="i">PIK3CA</tspan> (E542K hm)</text>
  <text x="256.7" y="1034.5"><tspan class="i">TGFBR2</tspan> (dm, R553H hm)</text>
 </g>
 <text class="tn" x="251.7" y="1060.5">T13</text>
 <text class="st" x="248" y="1081" style="fill:#a59fd6">Early and late dissemination</text>
 <text class="st" x="248" y="1097.5" style="fill:#3fae49">Immune evasion evolutionary stasis</text>
</g>

<!-- T14 -->
<g id="tree-T14">
 <g id="T14-connectors">
  <path class="tb" d="M595 935V1045"/>
  <path class="to" d="M621.7 935V927.3M605 927.3V888.3M676.7 927.3V910.7"/>
  <path class="tr" d="M521.7 935V850.7M562.7 888.3V864M616.7 888.3V871M666.7 910.7V854M721.7 910.7V889"/>
  <path class="tg" d="M521.7 935H621.7M605 927.3H676.7M562.7 888.3H616.7M666.7 910.7H721.7"/>
 </g>
 <g id="T14-R4"><circle class="nc" cx="521.7" cy="841.7" r="9"/><text class="nl" transform="translate(521.7,841.7) rotate(-90)" y="3.9">R4</text></g>
 <g id="T14-L"><circle class="nc" cx="562.7" cy="855" r="9"/><text class="nlr" transform="translate(562.7,855) rotate(-90)" y="3.9">L</text></g>
 <g id="T14-R3"><circle class="nc" cx="616.7" cy="862" r="9"/><text class="nl" transform="translate(616.7,862) rotate(-90)" y="3.9">R3</text></g>
 <g id="T14-R2"><circle class="nc" cx="666.7" cy="845" r="9"/><text class="nl" transform="translate(666.7,845) rotate(-90)" y="3.9">R2</text></g>
 <g id="T14-R1"><circle class="nc" cx="721.7" cy="880" r="9"/><text class="nl" transform="translate(721.7,880) rotate(-90)" y="3.9">R1</text></g>
 <text class="mt i" x="519.3" y="889.5" text-anchor="end">TP53</text>
 <text class="mt" x="519.3" y="904" text-anchor="end">(C176F hm)</text>
 <text class="mt i" x="610" y="904">KMT2D</text>
 <text class="mt" x="610" y="918">(dm, dm)</text>
 <text class="mt i" x="670" y="886">BCL9L</text>
 <text class="mt" x="670" y="899.5">(dm, dm)</text>
 <text class="mt ie" x="681.7" y="925"><tspan class="i">B2M</tspan> (dm, LOH)</text>
 <g class="mt">
  <text x="601" y="962.6"><tspan class="i">ACVR2A</tspan> (dm, LOH)</text>
  <text x="601" y="976.8"><tspan class="i">ARID1A</tspan> (dm, dm)</text>
  <text x="601" y="991" class="bv"><tspan class="i">BRAF</tspan> (V600E hm)</text>
  <text x="601" y="1005.2"><tspan class="i">FBXW7</tspan> (dm)</text>
  <text x="601" y="1019.4"><tspan class="i">RNF43</tspan> (dm, LOH)</text>
  <text x="601" y="1033.6"><tspan class="i">TGFBR2</tspan> (dm, LOH)</text>
 </g>
 <text class="tn" x="597.3" y="1060.5">T14</text>
 <text class="st" x="594.5" y="1081" style="fill:#a9cdef">Late dissemination</text>
 <text class="st" x="594.5" y="1097.5" style="fill:#e6232b">Subclonal immune evasion evolution</text>
</g>

<!-- T5 -->
<g id="tree-T5">
 <g id="T5-connectors">
  <path class="tb" d="M910.7 783.3V1046.7"/>
  <path class="to" d="M937.3 783.3V772.3"/>
  <path class="tr" d="M882.7 783.3V686M916.7 772.3V691.3M971.7 772.3V762.3"/>
  <path class="tg" d="M882.7 783.3H937.3M916.7 772.3H971.7"/>
 </g>
 <g id="T5-R1"><circle class="nc" cx="882.7" cy="676.7" r="9"/><text class="nl" transform="translate(882.7,676.7) rotate(-90)" y="3.9">R1</text></g>
 <g id="T5-R2"><circle class="nc" cx="916.7" cy="682.3" r="9"/><text class="nl" transform="translate(916.7,682.3) rotate(-90)" y="3.9">R2</text></g>
 <g id="T5-R3"><circle class="nc" cx="971.7" cy="753.3" r="9"/><text class="nl" transform="translate(971.7,753.3) rotate(-90)" y="3.9">R3</text></g>
 <text class="mt i" x="879.3" y="738.6" text-anchor="end">TCF7L2</text>
 <text class="mt" x="879.3" y="751" text-anchor="end">(dm, LOH)</text>
 <rect class="box" x="920" y="698.3" width="90" height="15" rx="4"/>
 <text class="mt ie" x="923.3" y="709.8"><tspan class="i">B2M</tspan> (dm, dm)</text>
 <text class="mt" x="923.3" y="726"><tspan class="i">PIK3CA</tspan> (R38C hm)</text>
 <text class="mt" x="923.3" y="739.3"><tspan class="i">PIK3R1</tspan> (dm, dm)</text>
 <rect class="box" x="974.3" y="762.3" width="89.7" height="16" rx="4"/>
 <text class="mt ie" x="978.3" y="774.5"><tspan class="i">B2M</tspan> (dm, dm)</text>
 <g class="mt">
  <text x="917.7" y="908.3"><tspan class="i">ACVR2A</tspan> (dm, LOH)</text>
  <text x="917.7" y="922.3"><tspan class="i">APC</tspan> (dm, dm)</text>
  <text x="917.7" y="936.3"><tspan class="i">ATM</tspan> (dm, dm)</text>
  <text x="917.7" y="950.3"><tspan class="i">AXIN2</tspan> (dm, dm)</text>
  <text x="917.7" y="964.3"><tspan class="i">BCL9L</tspan> (dm, dm)</text>
  <text x="917.7" y="978.3"><tspan class="i">CTNNB1</tspan>(S45P hm)</text>
  <text x="917.7" y="992.3"><tspan class="i">ERBB2</tspan> (R678Q hm)</text>
  <text x="917.7" y="1006.3"><tspan class="i">ERBB2</tspan> (L755S hm)</text>
  <text x="917.7" y="1020.3"><tspan class="i">FBXW7</tspan> (dm)</text>
  <text x="917.7" y="1034.3"><tspan class="i">TGFBR2</tspan> (dm, LOH)</text>
 </g>
 <text class="tn" x="910.7" y="1060.5">T5</text>
 <text class="st" x="911" y="1081" style="fill:#b1c259">No dissemination</text>
 <text class="st" x="911" y="1097.5" style="fill:#e6232b">Subclonal immune evasion evolution</text>
</g>

<!-- T19 -->
<g id="tree-T19">
 <g id="T19-connectors">
  <path class="tb" d="M264 1366V1594.3"/>
  <path class="to" d="M241 1366V1327.7M212.3 1327.7V1316.7"/>
  <path class="tr" d="M296.7 1366V1343M267.7 1327.7V1254M164 1316.7V1310.7M206 1316.7V1304M247.3 1316.7V1310"/>
  <path class="tg" d="M241 1366H296.7M212.3 1327.7H267.7M164 1316.7H247.3"/>
 </g>
 <g id="T19-L"><circle class="nc" cx="296.7" cy="1334" r="9"/><text class="nlr" transform="translate(296.7,1334) rotate(-90)" y="3.9">L</text></g>
 <g id="T19-R4"><circle class="nc" cx="267.7" cy="1245" r="9"/><text class="nl" transform="translate(267.7,1245) rotate(-90)" y="3.9">R4</text></g>
 <g id="T19-R1"><circle class="nc" cx="164" cy="1301.7" r="9"/><text class="nl" transform="translate(164,1301.7) rotate(-90)" y="3.9">R1</text></g>
 <g id="T19-R2"><circle class="nc" cx="206" cy="1295" r="9"/><text class="nl" transform="translate(206,1295) rotate(-90)" y="3.9">R2</text></g>
 <g id="T19-R3"><circle class="nc" cx="247.3" cy="1301" r="9"/><text class="nl" transform="translate(247.3,1301) rotate(-90)" y="3.9">R3</text></g>
 <g class="mt">
  <text x="270" y="1432.5"><tspan class="i">ACVR2A</tspan> (dm, LOH)</text>
  <text x="270" y="1446.2"><tspan class="i">APC</tspan> (dm, dm)</text>
  <text x="270" y="1460"><tspan class="i">ARID1A</tspan> (dm, dm)</text>
  <text x="270" y="1473.7" class="ie"><tspan class="i">B2M</tspan> (dm, dm)</text>
  <text x="270" y="1487.4"><tspan class="i">BCL9L</tspan> (dm, dm)</text>
  <text x="270" y="1501.2"><tspan class="i">ERBB3</tspan> (R475W hm)</text>
  <text x="270" y="1514.9"><tspan class="i">FBXW7</tspan> (R689W hm)</text>
  <text x="270" y="1528.6"><tspan class="i">KMT2C</tspan> (dm, LOH)</text>
  <text x="270" y="1542.3"><tspan class="i">KMT2D</tspan> (dm, dm)</text>
  <text x="270" y="1556.1"><tspan class="i">MSH3</tspan> (dm, LOH)</text>
  <text x="270" y="1569.8"><tspan class="i">PIK3CA</tspan> (E970K hm)</text>
  <text x="270" y="1583.5"><tspan class="i">TGFBR2</tspan> (dm, LOH)</text>
 </g>
 <text class="tn" x="263" y="1608.5">T19</text>
 <text class="st" x="257.5" y="1628.5" style="fill:#8d50b1">Early dissemination</text>
 <text class="st" x="257.5" y="1645" style="fill:#8d50b1">Pan-tumour immune evasion evolution</text>
</g>

<!-- T12 -->
<g id="tree-T12">
 <g id="T12-connectors">
  <path class="tb" d="M632.5 1229.3V1594"/>
  <path class="to" d="M613.3 1229.3V1208.3M577.7 1208.3V1178.3M541.7 1178.3V1163.3"/>
  <path class="tr" d="M681.7 1229.3V1187M632.5 1208.3V1170.7M596.7 1178.3V1165M515 1163.3V1126.7M570 1163.3V1133"/>
  <path class="tg" d="M613.3 1229.3H681.7M577.7 1208.3H632.5M541.7 1178.3H596.7M515 1163.3H570"/>
 </g>
 <g id="T12-L2"><circle class="nc" cx="681.7" cy="1178" r="9"/><text class="nlr" transform="translate(681.7,1178) rotate(-90)" y="3.9">L2</text></g>
 <g id="T12-R3"><circle class="nc" cx="632.5" cy="1161.7" r="9"/><text class="nl" transform="translate(632.5,1161.7) rotate(-90)" y="3.9">R3</text></g>
 <g id="T12-L1"><circle class="nc" cx="596.7" cy="1156" r="9"/><text class="nlr" transform="translate(596.7,1156) rotate(-90)" y="3.9">L1</text></g>
 <g id="T12-R1"><circle class="nc" cx="515" cy="1117.7" r="9"/><text class="nl" transform="translate(515,1117.7) rotate(-90)" y="3.9">R1</text></g>
 <g id="T12-R2"><circle class="nc" cx="570" cy="1124" r="9"/><text class="nl" transform="translate(570,1124) rotate(-90)" y="3.9">R2</text></g>
 <g id="T12-boxes">
  <rect class="box" x="476" y="1187.7" width="98" height="14.6" rx="4"/>
  <text class="mt ie" x="479.3" y="1199"><tspan class="i">NLRC5</tspan> (dm, dm)</text>
  <rect class="box" x="522.7" y="1211.7" width="87.3" height="15.6" rx="4"/>
  <text class="mt ie" x="526.7" y="1224"><tspan class="i">JAK1</tspan> (dm, dm)</text>
  <rect class="box" x="512.7" y="1230" width="97.3" height="15" rx="4"/>
  <text class="mt ie" x="517.3" y="1241.5"><tspan class="i">TAP1</tspan> (dm, LOH)</text>
  <rect class="box" x="635" y="1190" width="44.3" height="26.7" rx="4"/>
  <text class="mt ie i" x="637.3" y="1200.5">NLRC5</text>
  <text class="mt ie" x="636.5" y="1213" textLength="41" lengthAdjust="spacingAndGlyphs">(dm,dm)</text>
  <rect class="box" x="685" y="1192.3" width="88.3" height="14.4" rx="4"/>
  <text class="mt ie" x="688.3" y="1203.5"><tspan class="i">JAK1</tspan> (dm, dm)</text>
  <rect class="box" x="685" y="1208.3" width="98.3" height="14" rx="4"/>
  <text class="mt ie" x="688.3" y="1219"><tspan class="i">NLRC5</tspan> (dm, dm)</text>
  <rect class="box" x="686" y="1224" width="90.7" height="15.3" rx="4"/>
  <text class="mt ie" x="689.3" y="1235.5"><tspan class="i">TAP1</tspan> (dm, dm)</text>
 </g>
 <g class="mt">
  <text x="639" y="1501"><tspan class="i">ACVR2A</tspan> (dm, LOH)</text>
  <text x="639" y="1514.6"><tspan class="i">BCL9L</tspan> (dm, dm)</text>
  <text x="639" y="1528.2" class="bv"><tspan class="i">BRAF</tspan> (V600E hm)</text>
  <text x="639" y="1541.8"><tspan class="i">BRCA2</tspan> (dm, dm)</text>
  <text x="639" y="1555.4"><tspan class="i">KMT2D</tspan> (dm, dm)</text>
  <text x="639" y="1569"><tspan class="i">MSH2</tspan> (dm, dm)</text>
  <text x="639" y="1582.6"><tspan class="i">RNF43</tspan> (dm, LOH)</text>
 </g>
 <text class="tn" x="633.5" y="1609.5">T12</text>
 <text class="st" x="632.5" y="1628.5" style="fill:#a59fd6">Early and late dissemination</text>
 <text class="st" x="632.5" y="1645" style="fill:#8d50b1">Pan-tumour immune evasion evolution</text>
</g>

<!-- legend D -->
<g id="D-legend">
 <text class="lr" x="844" y="1221">R: primary tumour reigon</text>
 <text class="lr" x="844" y="1240"><tspan style="fill:#e8242a">L</tspan>:<tspan x="862.8">lymph node metastasis</tspan></text>
 <text class="b" font-size="14.5" x="844" y="1288.5">Driver nomenclature:</text>
 <text class="lr" x="844" y="1309.5">dm:<tspan x="881.5">disrupting mutation</tspan></text>
 <text class="lr" x="844" y="1326">LOH: loss of heterozygosity</text>
 <text class="lr" x="844" y="1341.5">hm:<tspan x="881.5">hotspot mutation</tspan></text>
 <text class="lr bv" x="844" y="1394.5"><tspan class="i">BRAF</tspan> V600E</text>
 <text class="lr ie" x="844" y="1415">Immune evasion driver</text>
 <text class="b" font-size="14.5" x="845" y="1459.5">Parallel evolution:</text>
 <rect class="box" x="845.5" y="1470" width="32" height="12.3" rx="4" stroke-width="2"/>
 <text class="lr" x="883.5" y="1480">Immune evasion genes</text>
 <path d="M850 1515H861M855.5 1515V1570.7M850 1570.7H861" stroke="#111" stroke-width="2.5" fill="none"/>
 <text class="lr" x="866.3" y="1538">10 mutations</text>
 <text class="lr" x="864.6" y="1555">(in 194 gene panel but excluding HLA)</text>
</g>
</g>
</svg>
